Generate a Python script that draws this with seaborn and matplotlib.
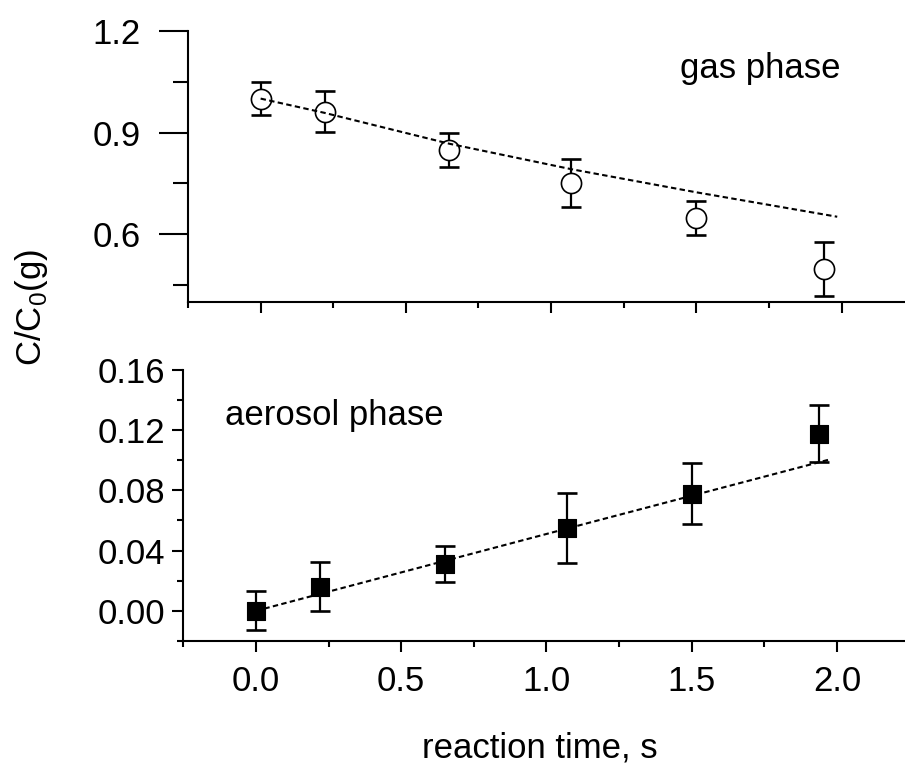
import matplotlib
matplotlib.use("Agg")
import matplotlib.pyplot as plt
import seaborn as sns
import pandas as pd
from matplotlib.ticker import MultipleLocator, FormatStrFormatter

# ---- data ----
time_gas = [0.0, 0.22, 0.65, 1.07, 1.50, 1.94]
gas = [1.0, 0.962, 0.849, 0.751, 0.648, 0.499]
gas_err = [0.049, 0.060, 0.051, 0.070, 0.050, 0.079]
fit_time_gas = [0.0, 0.22, 0.65, 1.07, 1.50, 1.985]
fit_gas = [1.0, 0.958, 0.867, 0.792, 0.724, 0.652]

time_aer = [0.0, 0.22, 0.65, 1.07, 1.50, 1.94]
aer = [0.0, 0.0161, 0.0309, 0.0549, 0.0778, 0.1175]
aer_err = [0.013, 0.016, 0.012, 0.023, 0.020, 0.019]
fit_time_aer = [0.0, 1.0, 1.98]
fit_aer = [0.0, 0.051, 0.1007]

x_label = "reaction time, s"
y_label = r"C/C$_\mathregular{0}$(g)"
gas_text = "gas phase"
aer_text = "aerosol phase"

sns.set_theme(style="ticks")
plt.rcParams['font.family'] = ['Liberation Sans', 'DejaVu Sans']
plt.rcParams['mathtext.fontset'] = 'custom'
plt.rcParams['mathtext.rm'] = 'Liberation Sans'
FS = 25

fig = plt.figure(figsize=(9.05, 7.65), dpi=100)
W, H = 905.0, 765.0
axw = 720.4 / W
ax1 = fig.add_axes([188 / W, 1 - 302.3 / H, axw, 271.6 / H])
ax2 = fig.add_axes([183.3 / W, 1 - 641 / H, axw, 271.3 / H])

df_gas = pd.DataFrame({"t": time_gas, "v": gas})
df_aer = pd.DataFrame({"t": time_aer, "v": aer})
df_fg = pd.DataFrame({"t": fit_time_gas, "v": fit_gas})
df_fa = pd.DataFrame({"t": fit_time_aer, "v": fit_aer})

dash = (0, (2.6, 1.6))

# top panel
ax1.errorbar(time_gas, gas, yerr=gas_err, fmt='none', ecolor='black',
             elinewidth=1.6, capsize=7, capthick=1.9, zorder=2)
sns.scatterplot(data=df_gas, x="t", y="v", ax=ax1, marker='o', s=14.5**2,
                facecolor='white', edgecolor='black', linewidth=1.2, zorder=3)
sns.lineplot(data=df_fg, x="t", y="v", ax=ax1, color='black',
             linestyle=dash, linewidth=1.5, zorder=4)

# bottom panel
ax2.errorbar(time_aer, aer, yerr=aer_err, fmt='none', ecolor='black',
             elinewidth=1.6, capsize=7, capthick=1.9, zorder=2)
sns.lineplot(data=df_fa, x="t", y="v", ax=ax2, color='black',
             linestyle=dash, linewidth=1.5, zorder=3)
sns.scatterplot(data=df_aer, x="t", y="v", ax=ax2, marker='s', s=12.5**2,
                color='black', edgecolor='black', linewidth=0.8, zorder=4)

for ax in (ax1, ax2):
    ax.set_xlim(-0.25, 2.23)
    ax.set_xlabel("")
    ax.set_ylabel("")
    ax.spines['top'].set_visible(False)
    ax.spines['right'].set_visible(False)
    for s in ('left', 'bottom'):
        ax.spines[s].set_linewidth(1.5)
        ax.spines[s].set_color('black')
    ax.xaxis.set_major_locator(MultipleLocator(0.5))
    ax.xaxis.set_minor_locator(MultipleLocator(0.25))
    ax.xaxis.set_major_formatter(FormatStrFormatter('%.1f'))
    ax.tick_params(which='both', direction='out', width=1.5, color='black',
                   labelsize=FS, labelcolor='black')
    ax.tick_params(axis='x', which='major', length=8, pad=9)
    ax.tick_params(axis='x', which='minor', length=4.2)

ax1.set_ylim(0.40, 1.2)
ax1.yaxis.set_major_locator(MultipleLocator(0.3))
ax1.yaxis.set_minor_locator(MultipleLocator(0.15))
ax1.yaxis.set_major_formatter(FormatStrFormatter('%.1f'))
ax1.tick_params(axis='y', which='major', length=21, pad=13)
ax1.tick_params(axis='y', which='minor', length=11)
ax1.tick_params(axis='x', labelbottom=False)

ax2.set_ylim(-0.02, 0.16)
ax2.yaxis.set_major_locator(MultipleLocator(0.04))
ax2.yaxis.set_minor_locator(MultipleLocator(0.02))
ax2.yaxis.set_major_formatter(FormatStrFormatter('%.2f'))
ax2.tick_params(axis='y', which='major', length=8, pad=5)
ax2.tick_params(axis='y', which='minor', length=4.2)

ax1.text(1.443, 1.061, gas_text, fontsize=FS, va='baseline', ha='left', color='black')
ax2.text(-0.106, 0.1234, aer_text, fontsize=FS, va='baseline', ha='left', color='black')

fig.text(540 / W, 1 - 757 / H, x_label, fontsize=FS, ha='center', va='baseline', color='black')
fig.text(32 / W, 1 - 307.5 / H, y_label, fontsize=FS, ha='center', va='center',
         rotation=90, color='black')

fig.savefig("out.png", dpi=100)
